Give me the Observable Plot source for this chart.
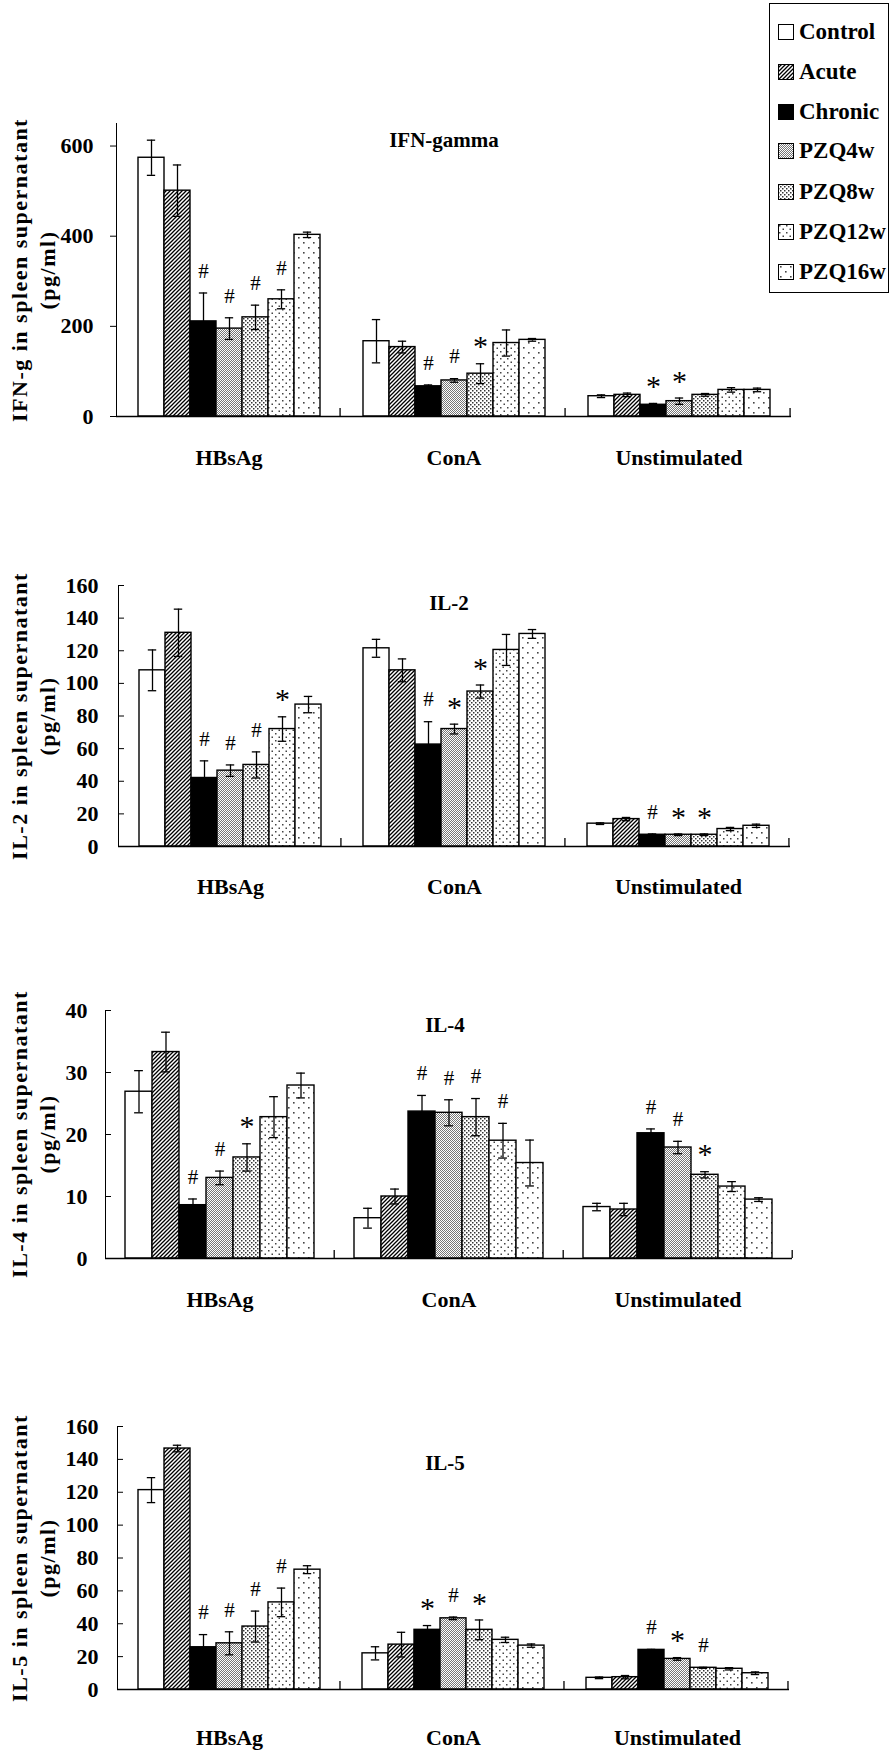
<!DOCTYPE html>
<html>
<head>
<meta charset="utf-8">
<script src="https://cdn.jsdelivr.net/npm/d3@7"></script>
<script src="https://cdn.jsdelivr.net/npm/@observablehq/plot@0.6"></script>
<style>
  body { margin: 0; background: #fff; }
  #page { position: relative; width: 893px; height: 1753px; overflow: hidden;
          font-family: "Liberation Serif", "Times New Roman", serif; color: #000; }
  .panel { position: absolute; left: 0; }
  .ttl { position: absolute; font-weight: bold; font-size: 21px; white-space: nowrap;
         transform: translate(-50%, -50%); }
  .ylab { position: absolute; font-weight: bold; font-size: 22px; letter-spacing: 1.5px;
          line-height: 28px; text-align: center; width: 440px; white-space: nowrap;
          transform: translate(-50%, -50%) rotate(-90deg); }
  #legend { position: absolute; left: 769px; top: 3px; width: 120px; height: 290px;
            border: 1.5px solid #000; box-sizing: border-box; background: #fff; }
  .lgi { position: absolute; left: 8px; height: 40px; display: flex; align-items: center;
         font-weight: bold; font-size: 23px; white-space: nowrap; }
  .lgi svg { margin-right: 5px; }
</style>
</head>
<body>
<svg width="0" height="0" style="position:absolute">
  <defs>
    <pattern id="pAcute" patternUnits="userSpaceOnUse" width="4" height="4">
      <rect width="4" height="4" fill="#fff"/>
      <path d="M-1,1 l2,-2 M0,4 l4,-4 M3,5 l2,-2" stroke="#000" stroke-width="1.3"/>
    </pattern>
    <pattern id="p4w" patternUnits="userSpaceOnUse" width="2" height="2">
      <rect width="2" height="2" fill="#fff"/>
      <rect width="1" height="1" fill="#777"/>
      <rect x="1" y="1" width="1" height="1" fill="#777"/>
    </pattern>
    <pattern id="p8w" patternUnits="userSpaceOnUse" width="4" height="4">
      <rect width="4" height="4" fill="#fff"/>
      <rect x="0" y="0" width="1.5" height="1.5" fill="#333"/>
      <rect x="2" y="2" width="1.5" height="1.5" fill="#333"/>
    </pattern>
    <pattern id="p12w" patternUnits="userSpaceOnUse" width="7" height="7">
      <rect width="7" height="7" fill="#fff"/>
      <rect x="1" y="1" width="1.5" height="1.5" fill="#444"/>
      <rect x="4.5" y="4.5" width="1.5" height="1.5" fill="#444"/>
    </pattern>
    <pattern id="p16w" patternUnits="userSpaceOnUse" width="10" height="10">
      <rect width="10" height="10" fill="#fff"/>
      <rect x="2" y="2" width="1.6" height="1.6" fill="#444"/>
      <rect x="7" y="7" width="1.6" height="1.6" fill="#444"/>
    </pattern>
  </defs>
</svg>
<div id="page"></div>
<script>
// ---------------- data ----------------
const categories = ["HBsAg", "ConA", "Unstimulated"];
const groups = ["Control", "Acute", "Chronic", "PZQ4w", "PZQ8w", "PZQ12w", "PZQ16w"];

const ifnTitle = "IFN-gamma";
const ifnYLabel = ["IFN-g in spleen supernatant", "(pg/ml)"];
const ifnTicks = [0, 200, 400, 600];
const ifnMean = [[574, 501, 211, 195, 220, 260, 403],
                 [167, 154, 67, 80, 95, 163, 170],
                 [45, 48, 26, 34, 48, 59, 59]];
const ifnErr  = [[39, 57, 63, 24, 27, 21, 6],
                 [48, 13, 3, 4, 22, 29, 3],
                 [3, 4, 3, 7, 3, 5, 4]];
const ifnMark = [["", "", "#", "#", "#", "#", ""],
                 ["", "", "#", "#", "*", "", ""],
                 ["", "", "*", "*", "", "", ""]];

const il2Title = "IL-2";
const il2YLabel = ["IL-2 in spleen supernatant", "(pg/ml)"];
const il2Ticks = [0, 20, 40, 60, 80, 100, 120, 140, 160];
const il2Mean = [[108, 131, 42, 46.5, 50, 72, 87],
                 [121.5, 108, 62.5, 72, 95, 120.5, 130.3],
                 [14, 16.8, 7.2, 7.2, 7.2, 10.7, 12.7]];
const il2Err  = [[12.5, 14.5, 10.5, 3.5, 8, 7.5, 5],
                 [5.5, 7, 14, 3, 4, 9.5, 2.7],
                 [0.5, 1, 0.5, 0.5, 0.5, 1, 1]];
const il2Mark = [["", "", "#", "#", "#", "*", ""],
                 ["", "", "#", "*", "*", "", ""],
                 ["", "", "#", "*", "*", "", ""]];

const il4Title = "IL-4";
const il4YLabel = ["IL-4 in spleen supernatant", "(pg/ml)"];
const il4Ticks = [0, 10, 20, 30, 40];
const il4Mean = [[26.9, 33.3, 8.6, 13, 16.3, 22.8, 27.9],
                 [6.5, 10, 23.7, 23.5, 22.8, 19, 15.4],
                 [8.3, 7.9, 20.2, 17.9, 13.5, 11.6, 9.5]];
const il4Err  = [[3.4, 3.2, 1, 1.1, 2.2, 3.3, 2],
                 [1.6, 1.2, 2.6, 2.1, 3, 2.8, 3.7],
                 [0.6, 1, 0.7, 1, 0.5, 0.8, 0.3]];
const il4Mark = [["", "", "#", "#", "*", "", ""],
                 ["", "", "#", "#", "#", "#", ""],
                 ["", "", "#", "#", "*", "", ""]];

const il5Title = "IL-5";
const il5YLabel = ["IL-5 in spleen supernatant", "(pg/ml)"];
const il5Ticks = [0, 20, 40, 60, 80, 100, 120, 140, 160];
const il5Mean = [[121.3, 146.6, 25.7, 28.1, 38.3, 53, 72.9],
                 [22, 27.3, 36.3, 43.3, 36.3, 30.2, 26.7],
                 [7.1, 7.5, 24.1, 18.6, 13.2, 12.6, 9.9]];
const il5Err  = [[7.6, 2, 7.7, 7, 9.4, 8.7, 2.4],
                 [4, 7.5, 2.6, 0.8, 6, 1.6, 1],
                 [0.5, 1, 0.3, 0.8, 0.3, 0.7, 0.8]];
const il5Mark = [["", "", "#", "#", "#", "#", ""],
                 ["", "", "*", "#", "*", "", ""],
                 ["", "", "#", "*", "#", "", ""]];

// ---------------- styling ----------------
const patternFor = {
  Control: "#ffffff", Acute: "url(#pAcute)", Chronic: "#000000",
  PZQ4w: "url(#p4w)", PZQ8w: "url(#p8w)", PZQ12w: "url(#p12w)", PZQ16w: "url(#p16w)"
};

const panels = [
  {title: ifnTitle, ylab: ifnYLabel, ticks: ifnTicks, mean: ifnMean, err: ifnErr, mark: ifnMark,
   domain: [0, 650], top: 0, height: 480, mT: 123, mB: 64, mL: 115, mR: 102,
   tickSize: 6, tickPad: 17, fxPad: 33, tx: 444, ty: 140},
  {title: il2Title, ylab: il2YLabel, ticks: il2Ticks, mean: il2Mean, err: il2Err, mark: il2Mark,
   domain: [0, 160], top: 480, height: 440, mT: 105, mB: 74, mL: 117, mR: 103,
   tickSize: -6, tickPad: 26, fxPad: 32, tx: 449, ty: 603},
  {title: il4Title, ylab: il4YLabel, ticks: il4Ticks, mean: il4Mean, err: il4Err, mark: il4Mark,
   domain: [0, 40], top: 920, height: 420, mT: 90, mB: 82, mL: 104, mR: 100,
   tickSize: -6, tickPad: 24, fxPad: 33, tx: 445, ty: 1025},
  {title: il5Title, ylab: il5YLabel, ticks: il5Ticks, mean: il5Mean, err: il5Err, mark: il5Mark,
   domain: [0, 160], top: 1340, height: 413, mT: 86, mB: 64, mL: 116, mR: 103,
   tickSize: -6, tickPad: 25, fxPad: 40, tx: 445, ty: 1463}
];

const W = 893;
const page = document.getElementById("page");

function makePanel(cfg) {
  const rows = [];
  categories.forEach((c, ci) => groups.forEach((g, gi) => rows.push({
    category: c, group: g, value: cfg.mean[ci][gi], err: cfg.err[ci][gi], mark: cfg.mark[ci][gi]
  })));
  const fw = (W - cfg.mL - cfg.mR) / categories.length;
  const po = 0.72;
  const step = fw / (groups.length + 2 * po);
  const capInset = Math.max(0, (step - 9) / 2);
  const plotH = cfg.height - cfg.mT - cfg.mB;
  const sepTop = cfg.domain[1] * 8 / plotH;

  return Plot.plot({
    width: W, height: cfg.height,
    marginTop: cfg.mT, marginBottom: cfg.mB, marginLeft: cfg.mL, marginRight: cfg.mR,
    facet: {data: rows, x: "category"},
    fx: {domain: categories, padding: 0, axis: "bottom", label: null, tickSize: 0, tickPadding: cfg.fxPad},
    x: {domain: groups, paddingInner: 0, paddingOuter: po, axis: null},
    y: {domain: cfg.domain, ticks: cfg.ticks, line: true, tickSize: cfg.tickSize,
        tickPadding: cfg.tickPad, label: null},
    color: {type: "identity"},
    style: {fontFamily: "Liberation Serif, Times New Roman, serif", fontSize: "22px",
            fontWeight: "bold", background: "transparent", color: "#000", overflow: "visible"},
    marks: [
      Plot.barY(rows, {x: "group", y: "value", fill: d => patternFor[d.group],
                       stroke: "#000", strokeWidth: 1.4}),
      Plot.ruleX(rows, {x: "group", y1: d => d.value - d.err, y2: d => d.value + d.err,
                        stroke: "#000", strokeWidth: 1.3}),
      Plot.tickY(rows, {x: "group", y: d => d.value + d.err, insetLeft: capInset, insetRight: capInset,
                        stroke: "#000", strokeWidth: 1.3}),
      Plot.tickY(rows, {x: "group", y: d => d.value - d.err, insetLeft: capInset, insetRight: capInset,
                        stroke: "#000", strokeWidth: 1.3}),
      Plot.text(rows, {filter: d => d.mark === "#", x: "group", y: d => d.value + d.err, text: "mark",
                       dy: -22, fontSize: 21, fontWeight: "normal", fill: "#000"}),
      Plot.text(rows, {filter: d => d.mark === "*", x: "group", y: d => d.value + d.err, text: "mark",
                       dy: -17, fontSize: 30, fontWeight: "normal", fill: "#000"}),
      Plot.ruleY([0], {stroke: "#000", strokeWidth: 1.5}),
      Plot.ruleX([groups[groups.length - 1]], {x: d => d, y1: 0, y2: sepTop,
                        dx: step / 2 + po * step, stroke: "#000", strokeWidth: 1.3})
    ]
  });
}

panels.forEach(cfg => {
  const wrap = document.createElement("div");
  wrap.className = "panel";
  wrap.style.top = cfg.top + "px";
  wrap.appendChild(makePanel(cfg));
  page.appendChild(wrap);

  const t = document.createElement("div");
  t.className = "ttl";
  t.textContent = cfg.title;
  t.style.left = cfg.tx + "px";
  t.style.top = cfg.ty + "px";
  page.appendChild(t);

  const yl = document.createElement("div");
  yl.className = "ylab";
  yl.innerHTML = cfg.ylab.map(s => `<div>${s}</div>`).join("");
  yl.style.left = "34px";
  yl.style.top = (cfg.top + cfg.mT + (cfg.height - cfg.mT - cfg.mB) / 2) + "px";
  page.appendChild(yl);
});

// legend
const legend = document.createElement("div");
legend.id = "legend";
const legendCenters = [32, 72, 112, 151, 192, 232, 272];
groups.forEach((g, i) => {
  const it = document.createElement("div");
  it.className = "lgi";
  it.style.top = (legendCenters[i] - 3 - 1.5 - 20) + "px";
  it.innerHTML = `<svg width="16" height="16"><rect x="0.5" y="0.5" width="15" height="15" fill="${patternFor[g]}" stroke="#000" stroke-width="1"/></svg><span>${g}</span>`;
  legend.appendChild(it);
});
page.appendChild(legend);
</script>
</body>
</html>
